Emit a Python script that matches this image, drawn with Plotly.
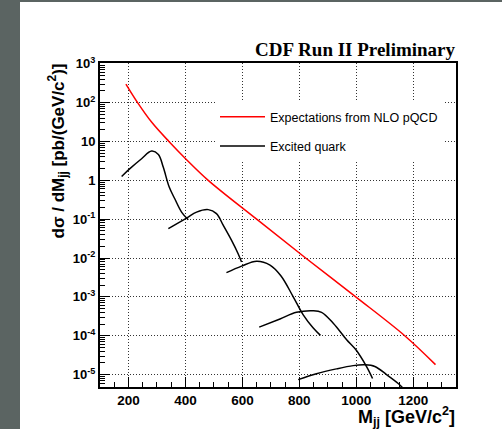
import plotly.graph_objects as go

# NLO pQCD dijet mass spectrum
nlo_mass = [191, 232, 281, 342, 404, 480, 650, 822, 998, 1170, 1278]
nlo_xsec = [300, 100, 31.6, 10, 3.4, 1.0, 0.1, 0.01, 1.0e-3, 1.0e-4, 1.8e-5]

# Excited quark signal shapes
q1_mass = [176, 205, 246, 281, 305, 322, 343, 363, 387, 410]
q1_xsec = [1.26, 2.0, 3.6, 5.65, 4.65, 2.19, 0.67, 0.33, 0.15, 0.097]

q2_mass = [340, 404, 439, 480, 509, 533, 562, 585, 597]
q2_xsec = [0.057, 0.107, 0.152, 0.176, 0.139, 0.069, 0.0285, 0.0129, 0.0079]

q3_mass = [544, 597, 650, 697, 735, 778, 813, 848, 874]
q3_xsec = [0.0042, 0.0062, 0.0083, 0.0066, 0.0035, 0.00102, 3.5e-4, 1.6e-4, 1.02e-4]

q4_mass = [659, 732, 790, 848, 878, 919, 966, 998, 1036, 1057]
q4_xsec = [1.66e-4, 2.7e-4, 4.0e-4, 4.4e-4, 4.0e-4, 2.1e-4, 7.9e-5, 4.4e-5, 1.6e-5, 7.9e-6]

q5_mass = [796, 860, 930, 989, 1030, 1065, 1106, 1147, 1170]
q5_xsec = [7.4e-6, 1.05e-5, 1.4e-5, 1.7e-5, 1.78e-5, 1.62e-5, 1.0e-5, 5.9e-6, 4.0e-6]

x_ticks = [200, 400, 600, 800, 1000, 1200]
y_ticks = [1e3, 1e2, 10, 1, 1e-1, 1e-2, 1e-3, 1e-4, 1e-5]
y_ticktext = ["10<sup>3</sup>", "10<sup>2</sup>", "10", "1", "10<sup>-1</sup>",
              "10<sup>-2</sup>", "10<sup>-3</sup>", "10<sup>-4</sup>", "10<sup>-5</sup>"]

# join the signal curves into one trace separated by gaps
sig_x, sig_y = [], []
for xs, ys in [(q1_mass, q1_xsec), (q2_mass, q2_xsec), (q3_mass, q3_xsec),
               (q4_mass, q4_xsec), (q5_mass, q5_xsec)]:
    sig_x += xs + [None]
    sig_y += ys + [None]

W, H = 502, 429
L, R, T, B = 100, 46, 63, 42
pw, ph = W - L - R, H - T - B


def px(xp):
    return (xp - L) / pw


def py(yp):
    return (H - B - yp) / ph


SANS = "Liberation Sans, Arial, sans-serif"
SERIF = "Liberation Serif, Times New Roman, serif"
GRID = dict(showgrid=True, gridcolor="#333", griddash="1px,2px", gridwidth=1, zeroline=False)
FRAME = dict(showline=True, linewidth=2, linecolor="black", mirror=True)

fig = go.Figure()
fig.add_trace(go.Scatter(
    x=nlo_mass, y=nlo_xsec, mode="lines", line=dict(color="#ff0000", width=1.5, shape="spline"),
    name="Expectations from NLO pQCD", legendgroup="a"))
fig.add_trace(go.Scatter(
    x=sig_x, y=sig_y, mode="lines", line=dict(color="black", width=1.5, shape="spline"),
    name="Excited quark", legendgroup="b", connectgaps=False))

minor_y = [m * 10 ** e for e in range(-6, 4) for m in range(2, 10)]

fig.update_xaxes(
    range=[100, 1350], tickvals=x_ticks, ticks="inside", ticklen=10, tickwidth=1, tickcolor="black",
    tickfont=dict(family=SANS, size=13.5, color="black", weight="bold"),
    minor=dict(dtick=50, tick0=0, ticks="inside", ticklen=5, tickcolor="black", showgrid=False),
    **GRID, **FRAME,
)
fig.update_yaxes(
    type="log", range=[-5.32, 3.02], tickmode="array", tickvals=y_ticks, ticktext=y_ticktext,
    ticks="inside", ticklen=10, tickwidth=1, tickcolor="black",
    tickfont=dict(family=SANS, size=13, color="black", weight="bold"),
    minor=dict(tickmode="array", tickvals=minor_y, ticks="inside", ticklen=5, tickcolor="black", showgrid=False),
    **GRID, **FRAME,
)

fig.update_layout(
    width=W, height=H, margin=dict(l=L, r=R, t=T, b=B),
    paper_bgcolor="white", plot_bgcolor="white",
    legend=dict(x=px(215), y=py(102), xanchor="left", yanchor="top", bgcolor="white",
                font=dict(family=SANS, size=12.5, color="black"), traceorder="grouped",
                tracegroupgap=10, itemwidth=45),
    shapes=[
        dict(type="rect", xref="paper", yref="paper", x0=px(0), x1=px(20), y0=py(H), y1=py(0),
             fillcolor="#5b6462", line_width=0, layer="below"),
        dict(type="rect", xref="paper", yref="paper", x0=px(0), x1=px(W), y0=py(2), y1=py(0),
             fillcolor="#5b6462", line_width=0, layer="below"),
    ],
    annotations=[
        dict(text="CDF Run II Preliminary", xref="paper", yref="paper", x=px(458), y=py(62),
             xanchor="right", yanchor="bottom", showarrow=False,
             font=dict(family=SERIF, size=19, color="black", weight="bold")),
        dict(text="M<sub>jj</sub> [GeV/c<sup>2</sup>]", xref="paper", yref="paper", x=px(457), y=py(402),
             xanchor="right", yanchor="top", showarrow=False,
             font=dict(family=SANS, size=18, color="black", weight="bold")),
        dict(text="d\u03c3 / dM<sub>jj</sub> [pb/(GeV/c<sup>2</sup>)]", xref="paper", yref="paper",
             x=px(58), y=py(62), xanchor="center", yanchor="top", textangle=-90, showarrow=False,
             font=dict(family=SANS, size=17, color="black", weight="bold")),
    ],
)

fig.write_html("out.html")
